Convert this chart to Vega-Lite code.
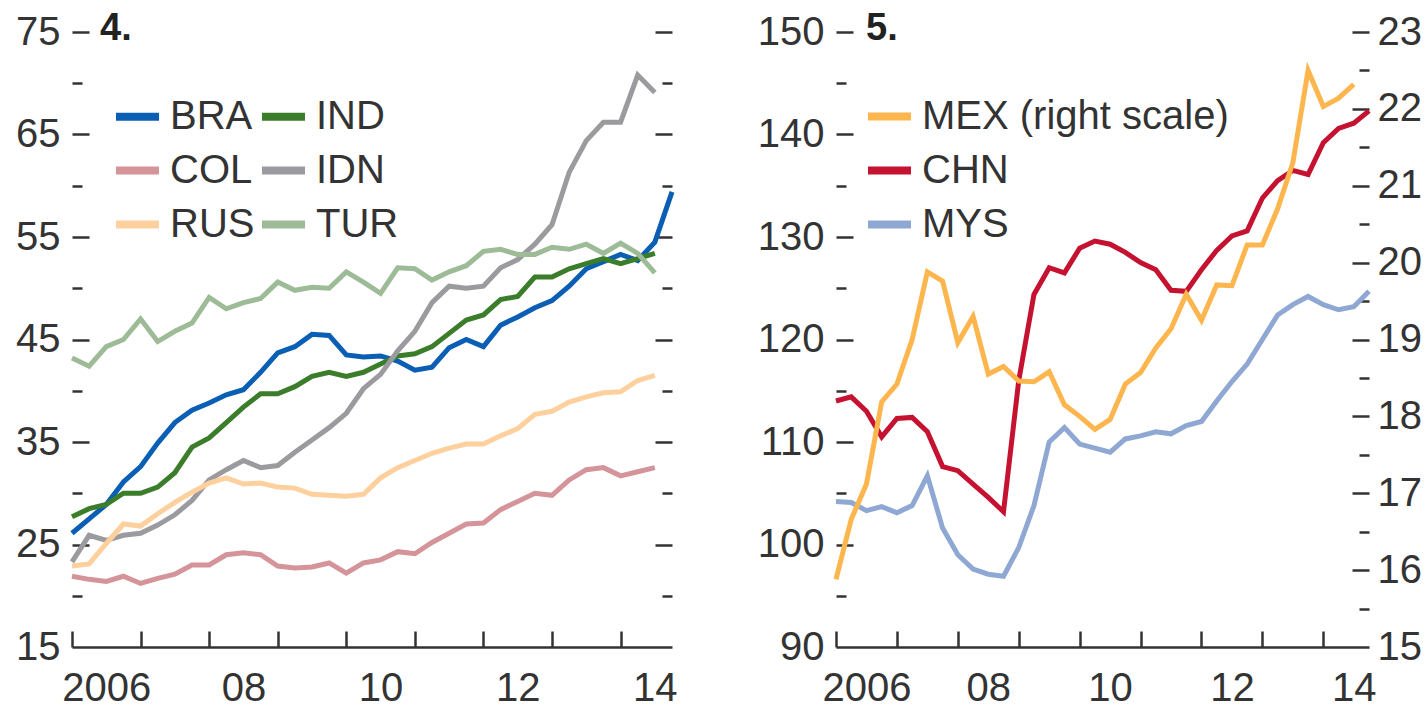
{
"$schema": "https://vega.github.io/schema/vega-lite/v6.json",
"background": "white",
"padding": {"left": 15, "top": 10, "right": 0, "bottom": 0},
"spacing": 75,
"resolve": {"scale": {"color": "independent"}, "legend": {"color": "independent"}},
"config": {
  "view": {"stroke": null},
  "font": "Liberation Sans",
  "axis": {"grid": false, "labelFont": "Liberation Sans", "labelFontSize": 40, "labelColor": "#333333", "tickColor": "#333333", "domainColor": "#333333", "tickWidth": 2.5, "domainWidth": 2.5, "labelOverlap": false, "labelFlush": false, "labelBound": false},
  "legend": {"labelFont": "Liberation Sans", "labelFontSize": 40, "labelColor": "#333333", "labelLimit": 500, "symbolType": "stroke", "symbolStrokeWidth": 8, "symbolSize": 1849, "labelOffset": 7, "rowPadding": 8, "columnPadding": -9, "padding": 0, "title": null},
  "title": {"font": "Liberation Sans", "fontSize": 38, "fontWeight": "bold", "color": "#222222", "anchor": "start", "frame": "group"}
},
"datasets": {
"left": [
{"country":"BRA","year":2006,"value":26.1},{"country":"BRA","year":2006.25,"value":27.5},{"country":"BRA","year":2006.5,"value":28.9},{"country":"BRA","year":2006.75,"value":31.1},{"country":"BRA","year":2007,"value":32.6},{"country":"BRA","year":2007.25,"value":34.9},{"country":"BRA","year":2007.5,"value":36.9},{"country":"BRA","year":2007.75,"value":38.1},{"country":"BRA","year":2008,"value":38.8},{"country":"BRA","year":2008.25,"value":39.6},{"country":"BRA","year":2008.5,"value":40.1},{"country":"BRA","year":2008.75,"value":41.8},{"country":"BRA","year":2009,"value":43.7},{"country":"BRA","year":2009.25,"value":44.3},{"country":"BRA","year":2009.5,"value":45.5},{"country":"BRA","year":2009.75,"value":45.4},{"country":"BRA","year":2010,"value":43.5},{"country":"BRA","year":2010.25,"value":43.3},{"country":"BRA","year":2010.5,"value":43.4},{"country":"BRA","year":2010.75,"value":42.9},{"country":"BRA","year":2011,"value":42.0},{"country":"BRA","year":2011.25,"value":42.3},{"country":"BRA","year":2011.5,"value":44.2},{"country":"BRA","year":2011.75,"value":45.0},{"country":"BRA","year":2012,"value":44.3},{"country":"BRA","year":2012.25,"value":46.4},{"country":"BRA","year":2012.5,"value":47.2},{"country":"BRA","year":2012.75,"value":48.1},{"country":"BRA","year":2013,"value":48.8},{"country":"BRA","year":2013.25,"value":50.2},{"country":"BRA","year":2013.5,"value":51.9},{"country":"BRA","year":2013.75,"value":52.6},{"country":"BRA","year":2014,"value":53.3},{"country":"BRA","year":2014.25,"value":52.7},{"country":"BRA","year":2014.5,"value":54.5},{"country":"BRA","year":2014.75,"value":59.4},
{"country":"IND","year":2006,"value":27.7},{"country":"IND","year":2006.25,"value":28.5},{"country":"IND","year":2006.5,"value":28.9},{"country":"IND","year":2006.75,"value":30.0},{"country":"IND","year":2007,"value":30.0},{"country":"IND","year":2007.25,"value":30.6},{"country":"IND","year":2007.5,"value":32.0},{"country":"IND","year":2007.75,"value":34.5},{"country":"IND","year":2008,"value":35.4},{"country":"IND","year":2008.25,"value":36.9},{"country":"IND","year":2008.5,"value":38.4},{"country":"IND","year":2008.75,"value":39.7},{"country":"IND","year":2009,"value":39.7},{"country":"IND","year":2009.25,"value":40.4},{"country":"IND","year":2009.5,"value":41.4},{"country":"IND","year":2009.75,"value":41.8},{"country":"IND","year":2010,"value":41.4},{"country":"IND","year":2010.25,"value":41.8},{"country":"IND","year":2010.5,"value":42.6},{"country":"IND","year":2010.75,"value":43.4},{"country":"IND","year":2011,"value":43.6},{"country":"IND","year":2011.25,"value":44.3},{"country":"IND","year":2011.5,"value":45.6},{"country":"IND","year":2011.75,"value":46.9},{"country":"IND","year":2012,"value":47.4},{"country":"IND","year":2012.25,"value":48.9},{"country":"IND","year":2012.5,"value":49.2},{"country":"IND","year":2012.75,"value":51.1},{"country":"IND","year":2013,"value":51.1},{"country":"IND","year":2013.25,"value":51.9},{"country":"IND","year":2013.5,"value":52.4},{"country":"IND","year":2013.75,"value":52.9},{"country":"IND","year":2014,"value":52.4},{"country":"IND","year":2014.25,"value":52.9},{"country":"IND","year":2014.5,"value":53.4},
{"country":"COL","year":2006,"value":21.9},{"country":"COL","year":2006.25,"value":21.6},{"country":"COL","year":2006.5,"value":21.4},{"country":"COL","year":2006.75,"value":21.9},{"country":"COL","year":2007,"value":21.2},{"country":"COL","year":2007.25,"value":21.7},{"country":"COL","year":2007.5,"value":22.1},{"country":"COL","year":2007.75,"value":23.0},{"country":"COL","year":2008,"value":23.0},{"country":"COL","year":2008.25,"value":24.0},{"country":"COL","year":2008.5,"value":24.2},{"country":"COL","year":2008.75,"value":24.0},{"country":"COL","year":2009,"value":22.9},{"country":"COL","year":2009.25,"value":22.7},{"country":"COL","year":2009.5,"value":22.8},{"country":"COL","year":2009.75,"value":23.2},{"country":"COL","year":2010,"value":22.2},{"country":"COL","year":2010.25,"value":23.2},{"country":"COL","year":2010.5,"value":23.5},{"country":"COL","year":2010.75,"value":24.3},{"country":"COL","year":2011,"value":24.1},{"country":"COL","year":2011.25,"value":25.2},{"country":"COL","year":2011.5,"value":26.1},{"country":"COL","year":2011.75,"value":27.0},{"country":"COL","year":2012,"value":27.1},{"country":"COL","year":2012.25,"value":28.4},{"country":"COL","year":2012.5,"value":29.2},{"country":"COL","year":2012.75,"value":30.0},{"country":"COL","year":2013,"value":29.8},{"country":"COL","year":2013.25,"value":31.3},{"country":"COL","year":2013.5,"value":32.3},{"country":"COL","year":2013.75,"value":32.5},{"country":"COL","year":2014,"value":31.7},{"country":"COL","year":2014.25,"value":32.1},{"country":"COL","year":2014.5,"value":32.5},
{"country":"IDN","year":2006,"value":23.3},{"country":"IDN","year":2006.25,"value":25.9},{"country":"IDN","year":2006.5,"value":25.4},{"country":"IDN","year":2006.75,"value":25.9},{"country":"IDN","year":2007,"value":26.1},{"country":"IDN","year":2007.25,"value":26.9},{"country":"IDN","year":2007.5,"value":27.9},{"country":"IDN","year":2007.75,"value":29.3},{"country":"IDN","year":2008,"value":31.3},{"country":"IDN","year":2008.25,"value":32.3},{"country":"IDN","year":2008.5,"value":33.2},{"country":"IDN","year":2008.75,"value":32.5},{"country":"IDN","year":2009,"value":32.7},{"country":"IDN","year":2009.25,"value":34.0},{"country":"IDN","year":2009.5,"value":35.2},{"country":"IDN","year":2009.75,"value":36.4},{"country":"IDN","year":2010,"value":37.8},{"country":"IDN","year":2010.25,"value":40.2},{"country":"IDN","year":2010.5,"value":41.6},{"country":"IDN","year":2010.75,"value":43.9},{"country":"IDN","year":2011,"value":45.8},{"country":"IDN","year":2011.25,"value":48.6},{"country":"IDN","year":2011.5,"value":50.2},{"country":"IDN","year":2011.75,"value":50.0},{"country":"IDN","year":2012,"value":50.2},{"country":"IDN","year":2012.25,"value":52.0},{"country":"IDN","year":2012.5,"value":52.8},{"country":"IDN","year":2012.75,"value":54.3},{"country":"IDN","year":2013,"value":56.2},{"country":"IDN","year":2013.25,"value":61.3},{"country":"IDN","year":2013.5,"value":64.4},{"country":"IDN","year":2013.75,"value":66.2},{"country":"IDN","year":2014,"value":66.2},{"country":"IDN","year":2014.25,"value":70.8},{"country":"IDN","year":2014.5,"value":69.1},
{"country":"RUS","year":2006,"value":22.9},{"country":"RUS","year":2006.25,"value":23.1},{"country":"RUS","year":2006.5,"value":25.1},{"country":"RUS","year":2006.75,"value":27.0},{"country":"RUS","year":2007,"value":26.8},{"country":"RUS","year":2007.25,"value":28.0},{"country":"RUS","year":2007.5,"value":29.1},{"country":"RUS","year":2007.75,"value":30.1},{"country":"RUS","year":2008,"value":31.0},{"country":"RUS","year":2008.25,"value":31.5},{"country":"RUS","year":2008.5,"value":30.9},{"country":"RUS","year":2008.75,"value":31.0},{"country":"RUS","year":2009,"value":30.6},{"country":"RUS","year":2009.25,"value":30.5},{"country":"RUS","year":2009.5,"value":29.9},{"country":"RUS","year":2009.75,"value":29.8},{"country":"RUS","year":2010,"value":29.7},{"country":"RUS","year":2010.25,"value":29.9},{"country":"RUS","year":2010.5,"value":31.5},{"country":"RUS","year":2010.75,"value":32.5},{"country":"RUS","year":2011,"value":33.2},{"country":"RUS","year":2011.25,"value":33.9},{"country":"RUS","year":2011.5,"value":34.4},{"country":"RUS","year":2011.75,"value":34.8},{"country":"RUS","year":2012,"value":34.8},{"country":"RUS","year":2012.25,"value":35.6},{"country":"RUS","year":2012.5,"value":36.3},{"country":"RUS","year":2012.75,"value":37.7},{"country":"RUS","year":2013,"value":38.0},{"country":"RUS","year":2013.25,"value":38.9},{"country":"RUS","year":2013.5,"value":39.4},{"country":"RUS","year":2013.75,"value":39.8},{"country":"RUS","year":2014,"value":39.9},{"country":"RUS","year":2014.25,"value":41.0},{"country":"RUS","year":2014.5,"value":41.5},
{"country":"TUR","year":2006,"value":43.2},{"country":"TUR","year":2006.25,"value":42.4},{"country":"TUR","year":2006.5,"value":44.3},{"country":"TUR","year":2006.75,"value":45.0},{"country":"TUR","year":2007,"value":47.0},{"country":"TUR","year":2007.25,"value":44.8},{"country":"TUR","year":2007.5,"value":45.8},{"country":"TUR","year":2007.75,"value":46.6},{"country":"TUR","year":2008,"value":49.1},{"country":"TUR","year":2008.25,"value":48.0},{"country":"TUR","year":2008.5,"value":48.6},{"country":"TUR","year":2008.75,"value":49.0},{"country":"TUR","year":2009,"value":50.6},{"country":"TUR","year":2009.25,"value":49.8},{"country":"TUR","year":2009.5,"value":50.1},{"country":"TUR","year":2009.75,"value":50.0},{"country":"TUR","year":2010,"value":51.6},{"country":"TUR","year":2010.25,"value":50.6},{"country":"TUR","year":2010.5,"value":49.5},{"country":"TUR","year":2010.75,"value":52.0},{"country":"TUR","year":2011,"value":51.9},{"country":"TUR","year":2011.25,"value":50.8},{"country":"TUR","year":2011.5,"value":51.6},{"country":"TUR","year":2011.75,"value":52.2},{"country":"TUR","year":2012,"value":53.6},{"country":"TUR","year":2012.25,"value":53.8},{"country":"TUR","year":2012.5,"value":53.3},{"country":"TUR","year":2012.75,"value":53.3},{"country":"TUR","year":2013,"value":54.0},{"country":"TUR","year":2013.25,"value":53.8},{"country":"TUR","year":2013.5,"value":54.3},{"country":"TUR","year":2013.75,"value":53.4},{"country":"TUR","year":2014,"value":54.4},{"country":"TUR","year":2014.25,"value":53.4},{"country":"TUR","year":2014.5,"value":51.5}
],
"right": [
{"country":"CHN","year":2006,"value":114.0},{"country":"CHN","year":2006.25,"value":114.4},{"country":"CHN","year":2006.5,"value":113.0},{"country":"CHN","year":2006.75,"value":110.5},{"country":"CHN","year":2007,"value":112.3},{"country":"CHN","year":2007.25,"value":112.4},{"country":"CHN","year":2007.5,"value":111.0},{"country":"CHN","year":2007.75,"value":107.6},{"country":"CHN","year":2008,"value":107.2},{"country":"CHN","year":2008.25,"value":105.9},{"country":"CHN","year":2008.5,"value":104.6},{"country":"CHN","year":2008.75,"value":103.2},{"country":"CHN","year":2009,"value":116.0},{"country":"CHN","year":2009.25,"value":124.4},{"country":"CHN","year":2009.5,"value":127.0},{"country":"CHN","year":2009.75,"value":126.5},{"country":"CHN","year":2010,"value":128.9},{"country":"CHN","year":2010.25,"value":129.6},{"country":"CHN","year":2010.5,"value":129.3},{"country":"CHN","year":2010.75,"value":128.5},{"country":"CHN","year":2011,"value":127.5},{"country":"CHN","year":2011.25,"value":126.8},{"country":"CHN","year":2011.5,"value":124.8},{"country":"CHN","year":2011.75,"value":124.7},{"country":"CHN","year":2012,"value":126.8},{"country":"CHN","year":2012.25,"value":128.7},{"country":"CHN","year":2012.5,"value":130.1},{"country":"CHN","year":2012.75,"value":130.6},{"country":"CHN","year":2013,"value":133.8},{"country":"CHN","year":2013.25,"value":135.5},{"country":"CHN","year":2013.5,"value":136.5},{"country":"CHN","year":2013.75,"value":136.1},{"country":"CHN","year":2014,"value":139.2},{"country":"CHN","year":2014.25,"value":140.6},{"country":"CHN","year":2014.5,"value":141.1},{"country":"CHN","year":2014.75,"value":142.3},
{"country":"MYS","year":2006,"value":104.2},{"country":"MYS","year":2006.25,"value":104.1},{"country":"MYS","year":2006.5,"value":103.3},{"country":"MYS","year":2006.75,"value":103.7},{"country":"MYS","year":2007,"value":103.1},{"country":"MYS","year":2007.25,"value":103.8},{"country":"MYS","year":2007.5,"value":106.7},{"country":"MYS","year":2007.75,"value":101.6},{"country":"MYS","year":2008,"value":99.0},{"country":"MYS","year":2008.25,"value":97.6},{"country":"MYS","year":2008.5,"value":97.1},{"country":"MYS","year":2008.75,"value":96.9},{"country":"MYS","year":2009,"value":99.7},{"country":"MYS","year":2009.25,"value":103.8},{"country":"MYS","year":2009.5,"value":110.0},{"country":"MYS","year":2009.75,"value":111.4},{"country":"MYS","year":2010,"value":109.8},{"country":"MYS","year":2010.25,"value":109.4},{"country":"MYS","year":2010.5,"value":109.0},{"country":"MYS","year":2010.75,"value":110.3},{"country":"MYS","year":2011,"value":110.6},{"country":"MYS","year":2011.25,"value":111.0},{"country":"MYS","year":2011.5,"value":110.8},{"country":"MYS","year":2011.75,"value":111.6},{"country":"MYS","year":2012,"value":112.0},{"country":"MYS","year":2012.25,"value":114.0},{"country":"MYS","year":2012.5,"value":115.9},{"country":"MYS","year":2012.75,"value":117.6},{"country":"MYS","year":2013,"value":120.0},{"country":"MYS","year":2013.25,"value":122.4},{"country":"MYS","year":2013.5,"value":123.4},{"country":"MYS","year":2013.75,"value":124.2},{"country":"MYS","year":2014,"value":123.4},{"country":"MYS","year":2014.25,"value":122.9},{"country":"MYS","year":2014.5,"value":123.2},{"country":"MYS","year":2014.75,"value":124.7},
{"country":"MEX","year":2006,"value":15.88},{"country":"MEX","year":2006.25,"value":16.66},{"country":"MEX","year":2006.5,"value":17.12},{"country":"MEX","year":2006.75,"value":18.19},{"country":"MEX","year":2007,"value":18.42},{"country":"MEX","year":2007.25,"value":19.0},{"country":"MEX","year":2007.5,"value":19.88},{"country":"MEX","year":2007.75,"value":19.76},{"country":"MEX","year":2008,"value":18.96},{"country":"MEX","year":2008.25,"value":19.30},{"country":"MEX","year":2008.5,"value":18.55},{"country":"MEX","year":2008.75,"value":18.65},{"country":"MEX","year":2009,"value":18.46},{"country":"MEX","year":2009.25,"value":18.45},{"country":"MEX","year":2009.5,"value":18.58},{"country":"MEX","year":2009.75,"value":18.15},{"country":"MEX","year":2010,"value":18.0},{"country":"MEX","year":2010.25,"value":17.83},{"country":"MEX","year":2010.5,"value":17.96},{"country":"MEX","year":2010.75,"value":18.42},{"country":"MEX","year":2011,"value":18.57},{"country":"MEX","year":2011.25,"value":18.89},{"country":"MEX","year":2011.5,"value":19.14},{"country":"MEX","year":2011.75,"value":19.59},{"country":"MEX","year":2012,"value":19.25},{"country":"MEX","year":2012.25,"value":19.71},{"country":"MEX","year":2012.5,"value":19.70},{"country":"MEX","year":2012.75,"value":20.23},{"country":"MEX","year":2013,"value":20.23},{"country":"MEX","year":2013.25,"value":20.70},{"country":"MEX","year":2013.5,"value":21.3},{"country":"MEX","year":2013.75,"value":22.5},{"country":"MEX","year":2014,"value":22.03},{"country":"MEX","year":2014.25,"value":22.14},{"country":"MEX","year":2014.5,"value":22.32}
]
},
"hconcat": [
{
  "width": 600, "height": 615,
  "data": {"name": "left"},
  "title": {"text": "4.", "dx": 28, "dy": 40},
  "resolve": {"axis": {"x": "independent", "y": "independent"}},
  "layer": [
    {"mark": {"type": "line", "strokeWidth": 5},
     "encoding": {
       "x": {"field": "year", "type": "quantitative", "scale": {"domain": [2006, 2014.75], "nice": false, "zero": false},
             "axis": {"orient": "bottom", "title": null, "values": [2006.5, 2008.5, 2010.5, 2012.5, 2014.5], "labelExpr": "floor(datum.value) == 2006 ? '2006' : substring(toString(floor(datum.value)), 2, 4)", "ticks": false, "tickSize": 0, "domain": true, "labelPadding": 21}},
       "y": {"field": "value", "type": "quantitative", "scale": {"domain": [15, 75], "nice": false, "zero": false},
             "axis": {"orient": "left", "title": null, "values": [15, 25, 35, 45, 55, 65, 75], "ticks": false, "tickSize": 0, "domain": false, "labelPadding": 12}},
       "color": {"field": "country", "type": "nominal",
                 "scale": {"domain": ["BRA", "COL", "RUS", "IND", "IDN", "TUR"], "range": ["#0a5fb4", "#d49499", "#fdd09e", "#3b7d2a", "#9b9b9f", "#9ebb98"]},
                 "legend": {"orient": "none", "legendX": 40, "legendY": 59, "columns": 2}}
     }},
    {"mark": {"type": "point", "opacity": 0},
     "encoding": {
       "x": {"field": "year", "type": "quantitative", "axis": {"orient": "bottom", "title": null, "values": [2006, 2007, 2008, 2009, 2010, 2011, 2012, 2013, 2014], "labels": false, "domain": false, "tickSize": 16, "offset": -16}},
       "y": {"field": "value", "type": "quantitative", "axis": {"orient": "left", "title": null, "values": [25, 35, 45, 55, 65, 75], "labels": false, "domain": false, "tickSize": 17, "offset": -17}}
     }},
    {"mark": {"type": "point", "opacity": 0},
     "encoding": {
       "x": {"field": "year", "type": "quantitative", "axis": null},
       "y": {"field": "value", "type": "quantitative", "axis": {"orient": "left", "title": null, "values": [20, 30, 40, 50, 60, 70], "labels": false, "domain": false, "tickSize": 10, "offset": -10}}
     }},
    {"mark": {"type": "point", "opacity": 0},
     "encoding": {
       "x": {"field": "year", "type": "quantitative", "axis": null},
       "y": {"field": "value", "type": "quantitative", "axis": {"orient": "right", "title": null, "values": [25, 35, 45, 55, 65, 75], "labels": false, "domain": false, "tickSize": 17, "offset": -17}}
     }},
    {"mark": {"type": "point", "opacity": 0},
     "encoding": {
       "x": {"field": "year", "type": "quantitative", "axis": null},
       "y": {"field": "value", "type": "quantitative", "axis": {"orient": "right", "title": null, "values": [20, 30, 40, 50, 60, 70], "labels": false, "domain": false, "tickSize": 10, "offset": -10}}
     }}
  ]
},
{
  "width": 533, "height": 615,
  "data": {"name": "right"},
  "title": {"text": "5.", "dx": 30, "dy": 40},
  "resolve": {"scale": {"y": "independent"}, "axis": {"x": "independent", "y": "independent"}},
  "layer": [
    {"transform": [{"filter": "datum.country != 'MEX'"}],
     "mark": {"type": "line", "strokeWidth": 5},
     "encoding": {
       "x": {"field": "year", "type": "quantitative", "scale": {"domain": [2006, 2014.75], "nice": false, "zero": false},
             "axis": {"orient": "bottom", "title": null, "values": [2006.5, 2008.5, 2010.5, 2012.5, 2014.5], "labelExpr": "floor(datum.value) == 2006 ? '2006' : substring(toString(floor(datum.value)), 2, 4)", "ticks": false, "tickSize": 0, "domain": true, "labelPadding": 21}},
       "y": {"field": "value", "type": "quantitative", "scale": {"domain": [90, 150], "nice": false, "zero": false},
             "axis": {"orient": "left", "title": null, "values": [90, 100, 110, 120, 130, 140, 150], "ticks": false, "tickSize": 0, "domain": false, "labelPadding": 12}},
       "color": {"field": "country", "type": "nominal",
                 "scale": {"domain": ["MEX", "CHN", "MYS"], "range": ["#fdb64e", "#c41230", "#8fa8d3"]},
                 "legend": {"orient": "none", "legendX": 28, "legendY": 59, "labelExpr": "datum.label == 'MEX' ? 'MEX (right scale)' : datum.label"}}
     }},
    {"transform": [{"filter": "datum.country != 'MEX'"}],
     "mark": {"type": "point", "opacity": 0},
     "encoding": {
       "x": {"field": "year", "type": "quantitative", "axis": {"orient": "bottom", "title": null, "values": [2006, 2007, 2008, 2009, 2010, 2011, 2012, 2013, 2014], "labels": false, "domain": false, "tickSize": 16, "offset": -16}},
       "y": {"field": "value", "type": "quantitative", "scale": {"domain": [90, 150], "nice": false, "zero": false}, "axis": {"orient": "left", "title": null, "values": [100, 110, 120, 130, 140, 150], "labels": false, "domain": false, "tickSize": 17, "offset": -17}}
     }},
    {"transform": [{"filter": "datum.country != 'MEX'"}],
     "mark": {"type": "point", "opacity": 0},
     "encoding": {
       "x": {"field": "year", "type": "quantitative", "axis": null},
       "y": {"field": "value", "type": "quantitative", "scale": {"domain": [90, 150], "nice": false, "zero": false}, "axis": {"orient": "left", "title": null, "values": [95, 105, 115, 125, 135, 145], "labels": false, "domain": false, "tickSize": 10, "offset": -10}}
     }},
    {"transform": [{"filter": "datum.country == 'MEX'"}],
     "mark": {"type": "line", "strokeWidth": 5},
     "encoding": {
       "x": {"field": "year", "type": "quantitative", "axis": null},
       "y": {"field": "value", "type": "quantitative", "scale": {"domain": [15, 23], "nice": false, "zero": false},
             "axis": {"orient": "right", "title": null, "values": [15, 16, 17, 18, 19, 20, 21, 22, 23], "ticks": false, "tickSize": 0, "domain": false, "labelPadding": 8}},
       "color": {"field": "country", "type": "nominal"}
     }},
    {"transform": [{"filter": "datum.country == 'MEX'"}],
     "mark": {"type": "point", "opacity": 0},
     "encoding": {
       "x": {"field": "year", "type": "quantitative", "axis": null},
       "y": {"field": "value", "type": "quantitative", "scale": {"domain": [15, 23], "nice": false, "zero": false}, "axis": {"orient": "right", "title": null, "values": [16, 17, 18, 19, 20, 21, 22, 23], "labels": false, "domain": false, "tickSize": 17, "offset": -17}}
     }},
    {"transform": [{"filter": "datum.country == 'MEX'"}],
     "mark": {"type": "point", "opacity": 0},
     "encoding": {
       "x": {"field": "year", "type": "quantitative", "axis": null},
       "y": {"field": "value", "type": "quantitative", "scale": {"domain": [15, 23], "nice": false, "zero": false}, "axis": {"orient": "right", "title": null, "values": [15.5, 16.5, 17.5, 18.5, 19.5, 20.5, 21.5, 22.5], "labels": false, "domain": false, "tickSize": 10, "offset": -10}}
     }}
  ]
}
]
}
